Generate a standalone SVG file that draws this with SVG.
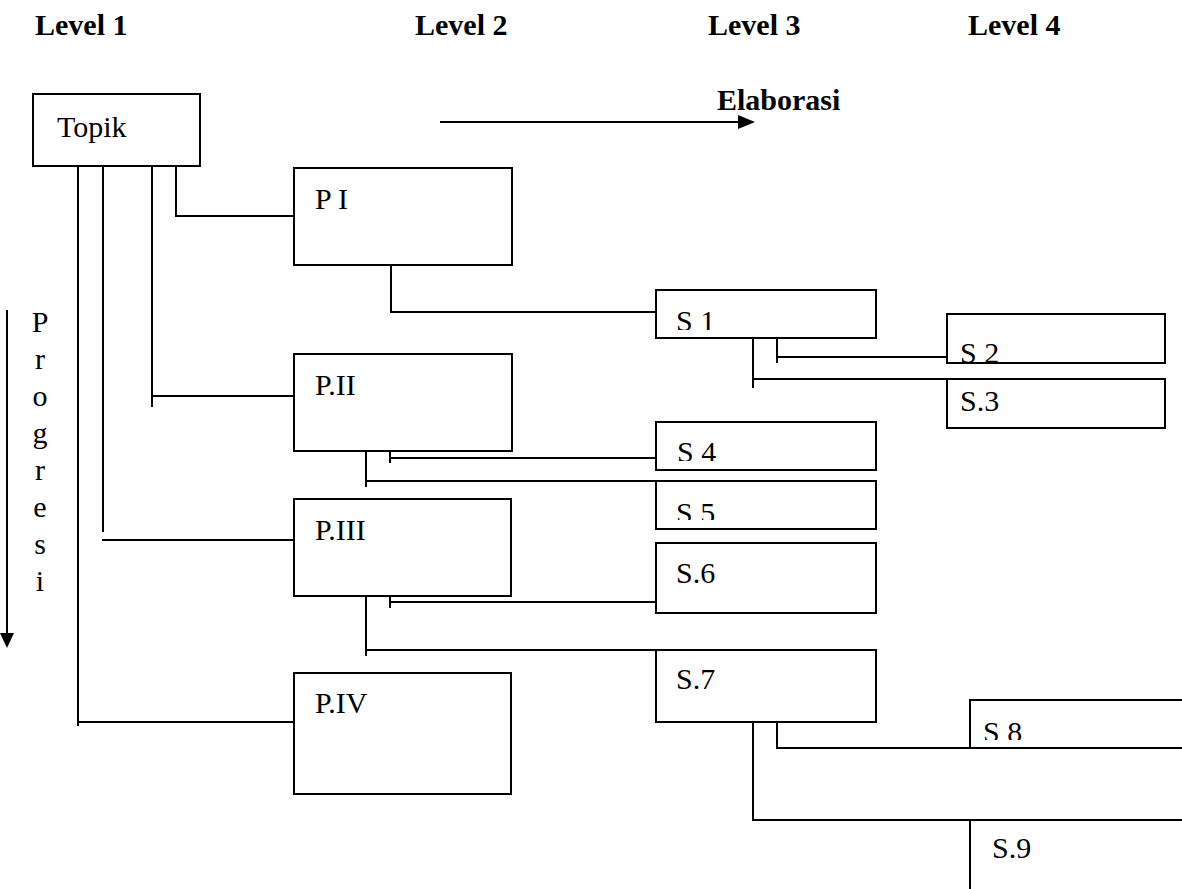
<svg xmlns="http://www.w3.org/2000/svg" width="1182" height="889" viewBox="0 0 1182 889">
  <style>
    .box { fill: #fff; stroke: #000; stroke-width: 2; }
    .wire { fill: none; stroke: #000; stroke-width: 2; }
    .lbl { font-family: "Liberation Serif", "Times New Roman", serif; font-size: 30px; fill: #000; }
    .hdr { font-family: "Liberation Serif", "Times New Roman", serif; font-size: 30px; font-weight: bold; fill: #000; }
  </style>
  <defs>
    <!-- lower edges of the cut-off sub-topic labels -->
    <clipPath id="cS1" clipPathUnits="userSpaceOnUse"><rect x="656" y="290" width="220" height="40"/></clipPath>
    <clipPath id="cS2" clipPathUnits="userSpaceOnUse"><rect x="947" y="314" width="218" height="48"/></clipPath>
    <clipPath id="cS4" clipPathUnits="userSpaceOnUse"><rect x="656" y="422" width="220" height="39"/></clipPath>
    <clipPath id="cS5" clipPathUnits="userSpaceOnUse"><rect x="656" y="481" width="220" height="39"/></clipPath>
    <clipPath id="cS8" clipPathUnits="userSpaceOnUse"><rect x="970" y="700" width="212" height="40"/></clipPath>
  </defs>

  <rect width="1182" height="889" fill="#fff"/>

  <!-- column headings -->
  <g id="headings">
    <text class="hdr" x="35" y="35">Level 1</text>
    <text class="hdr" x="415" y="35">Level 2</text>
    <text class="hdr" x="708" y="35">Level 3</text>
    <text class="hdr" x="968" y="35">Level 4</text>
  </g>

  <!-- elaboration axis -->
  <g id="elaborasi">
    <text class="hdr" x="717" y="110">Elaborasi</text>
    <line class="wire" x1="440" y1="122" x2="740" y2="122"/>
    <polygon points="738,115 755,122 738,129" fill="#000"/>
  </g>

  <!-- progression axis -->
  <g id="progresi">
    <line class="wire" x1="7" y1="310" x2="7" y2="635"/>
    <polygon points="0,633 14,633 7,648" fill="#000"/>
    <g class="lbl" text-anchor="middle">
      <text x="40" y="332">P</text>
      <text x="40" y="369">r</text>
      <text x="40" y="406">o</text>
      <text x="40" y="443">g</text>
      <text x="40" y="480">r</text>
      <text x="40" y="517">e</text>
      <text x="40" y="554">s</text>
      <text x="40" y="591">i</text>
    </g>
  </g>

  <!-- connectors -->
  <g id="connectors" class="wire">
    <!-- Topik to P I .. P.IV -->
    <path d="M176,166 V216 H294"/>
    <path d="M152,166 V407 M152,396 H294"/>
    <path d="M103,166 V532 M102,540 H294"/>
    <path d="M78,166 V726 M78,722 H294"/>
    <!-- P I to S 1 -->
    <path d="M391,265 V312 H656"/>
    <!-- P.II to S 4 / S 5 -->
    <path d="M366,438 V487 M366,481 H656"/>
    <path d="M390,438 V463 M390,458 H656"/>
    <!-- P.III to S.6 / S.7 -->
    <path d="M366,583 V656 M366,650 H656"/>
    <path d="M390,583 V608 M390,602 H656"/>
    <!-- S 1 to S 2 / S.3 -->
    <path d="M777,338 V363 M777,357 H947"/>
    <path d="M753,338 V388 M753,379 H947"/>
    <!-- S.7 to S 8 / S.9 -->
    <path d="M777,722 V748 H1182"/>
    <path d="M753,722 V820 H1182"/>
  </g>

  <g id="topik">
    <rect class="box" x="33" y="94" width="167" height="72"/>
    <text class="lbl" x="57" y="137">Topik</text>
  </g>

  <g id="p1">
    <rect class="box" x="294" y="168" width="218" height="97"/>
    <text class="lbl" x="315" y="209">P I</text>
  </g>
  <g id="p2">
    <rect class="box" x="294" y="354" width="218" height="97"/>
    <text class="lbl" x="315" y="395">P.II</text>
  </g>
  <g id="p3">
    <rect class="box" x="294" y="499" width="217" height="97"/>
    <text class="lbl" x="315" y="540">P.III</text>
  </g>
  <g id="p4">
    <rect class="box" x="294" y="673" width="217" height="121"/>
    <text class="lbl" x="315" y="713">P.IV</text>
  </g>

  <g id="s1">
    <rect class="box" x="656" y="290" width="220" height="48"/>
    <text class="lbl" x="676" y="331" clip-path="url(#cS1)">S 1</text>
  </g>
  <g id="s2">
    <rect class="box" x="947" y="314" width="218" height="49"/>
    <text class="lbl" x="960" y="363" clip-path="url(#cS2)">S 2</text>
  </g>
  <g id="s3">
    <rect class="box" x="947" y="379" width="218" height="49"/>
    <text class="lbl" x="960" y="411">S.3</text>
  </g>
  <g id="s4">
    <rect class="box" x="656" y="422" width="220" height="48"/>
    <text class="lbl" x="677" y="462" clip-path="url(#cS4)">S 4</text>
  </g>
  <g id="s5">
    <rect class="box" x="656" y="481" width="220" height="48"/>
    <text class="lbl" x="676" y="523" clip-path="url(#cS5)">S 5</text>
  </g>
  <g id="s6">
    <rect class="box" x="656" y="543" width="220" height="70"/>
    <text class="lbl" x="676" y="583">S.6</text>
  </g>
  <g id="s7">
    <rect class="box" x="656" y="650" width="220" height="72"/>
    <text class="lbl" x="676" y="689">S.7</text>
  </g>
  <g id="s8">
    <rect class="box" x="970" y="700" width="240" height="48"/>
    <text class="lbl" x="983" y="742" clip-path="url(#cS8)">S 8</text>
  </g>
  <g id="s9">
    <rect class="box" x="970" y="820" width="240" height="100"/>
    <text class="lbl" x="992" y="858">S.9</text>
  </g>
</svg>
